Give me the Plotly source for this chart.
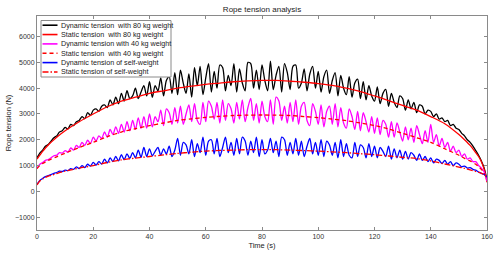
import plotly.graph_objects as go

# ---------------- data ----------------
t_dyn = list(range(0, 161))

dyn_80 = [
    1300, 1480, 1600, 1750, 1820, 1950, 2080, 2150, 2300, 2350,
    2480, 2420, 2600, 2550, 2700, 2750, 2900, 2820, 3050, 2950,
    3150, 3200, 3100, 3300, 3350, 3250, 3550, 3350, 3650, 3400,
    3800, 3500, 3900, 3600, 3700, 4000, 3600, 3850, 4100, 3700,
    4250, 3650, 4100, 3900, 4400, 3700, 4300, 4450, 3800, 4600,
    3750, 4700, 4200, 3800, 4550, 3650, 4800, 4100, 4850, 3750,
    4400, 4950, 3850, 4650, 4000, 4900, 4800, 3900, 4500, 4100,
    4950, 3850, 4750, 4200, 3900, 5000, 4950, 4000, 4700, 3950,
    4900, 4300, 3900, 5050, 3950, 4500, 4850, 3850, 4950, 4600,
    3950, 4850, 4900, 4000, 4200, 4750, 3900, 4550, 4850, 4000,
    4650, 3850, 4450, 4700, 3800, 4300, 4600, 3700, 4500, 4000,
    3750, 4450, 3650, 4200, 4350, 3600, 4250, 3550, 4100, 3700,
    3500, 4050, 3400, 3800, 3950, 3300, 3800, 3450, 3250, 3700,
    3600, 3150, 3550, 3200, 3450, 3050, 3350, 3300, 3000, 3150,
    3100, 2900, 3000, 2800, 2850, 2700, 2750, 2550, 2600, 2450,
    2400, 2250, 2150, 2000, 1900, 1750, 1580, 1400, 1180, 900, 450,
]

dyn_40 = [
    900, 1050, 1120, 1200, 1230, 1300, 1380, 1400, 1500, 1480,
    1580, 1520, 1680, 1600, 1780, 1700, 1900, 1780, 1980, 1850,
    2100, 1950, 2150, 2050, 2300, 2100, 2400, 2200, 2500, 2250,
    2600, 2300, 2700, 2350, 2750, 2400, 2850, 2450, 2900, 2450,
    3000, 2500, 2900, 2700, 3150, 2550, 3200, 3050, 2600, 3250,
    2650, 3300, 2600, 3000, 3350, 2700, 3400, 2750, 2600, 3450,
    2700, 3500, 3300, 2800, 3450, 2650, 3550, 2750, 3400, 3200,
    2650, 3450, 2800, 3550, 2700, 3250, 3600, 2750, 3400, 2650,
    3500, 2900, 2700, 3550, 2600, 3650, 3500, 2750, 3300, 2650,
    3450, 2700, 3550, 2600, 3300, 3450, 2750, 2550, 3400, 3100,
    2600, 3350, 2500, 3100, 3300, 2600, 3400, 2500, 3250, 2650,
    2450, 3200, 2900, 2400, 3100, 2350, 3050, 2700, 2300, 2900,
    2250, 2850, 2200, 2750, 2600, 2100, 2700, 2100, 2650, 2300,
    1950, 2500, 2000, 2450, 1900, 2550, 2200, 1850, 2350, 1900,
    2600, 1900, 2200, 1750, 2050, 1700, 1900, 1550, 1750, 1500,
    1600, 1350, 1450, 1250, 1300, 1150, 1150, 1000, 900, 750, 400,
]

dyn_self = [
    270, 420, 500, 570, 610, 650, 700, 730, 780, 770,
    820, 800, 880, 850, 950, 880, 1000, 920, 1050, 980,
    1120, 1020, 1150, 1060, 1250, 1100, 1300, 1150, 1350, 1180,
    1420, 1230, 1450, 1280, 1500, 1300, 1600, 1320, 1700, 1350,
    1650, 1380, 1550, 1700, 1400, 1650, 1450, 1750, 1350, 1600,
    2050, 1400, 1900, 1800, 1450, 2000, 1350, 1850, 1500, 2100,
    1400, 1950, 2000, 1450, 2050, 1350, 1700, 2100, 1500, 1900,
    1400, 2050, 1450, 2100, 1950, 1400, 1950, 1500, 2100, 1350,
    2000, 1450, 1600, 2050, 1500, 1950, 1350, 2100, 2000, 1400,
    1900, 1450, 2050, 1400, 1950, 1350, 1750, 2050, 1450, 1900,
    1400, 2000, 1350, 1950, 1800, 1400, 1900, 1300, 2000, 1350,
    1850, 1400, 1300, 1900, 1350, 1800, 1700, 1300, 1850, 1350,
    1750, 1300, 1700, 1550, 1350, 1750, 1250, 1650, 1300, 1600,
    1250, 1550, 1250, 1500, 1400, 1200, 1450, 1200, 1350, 1150,
    1300, 1100, 1250, 1200, 1080, 1200, 1050, 1150, 1000, 1100,
    1050, 950, 980, 900, 920, 850, 820, 750, 700, 650, 560,
]

t_static = [0, 1, 2, 3, 4, 5, 7, 10, 15, 20, 25, 30, 35, 40, 45, 50, 55, 60,
            65, 70, 75, 80, 85, 90, 95, 100, 105, 110, 115, 120, 125, 130,
            135, 140, 145, 150, 152, 154, 156, 157, 158, 159, 160]

static_80 = [1250, 1400, 1550, 1680, 1800, 1900, 2100, 2350, 2700, 3000, 3280,
             3500, 3650, 3800, 3900, 4000, 4080, 4150, 4200, 4250, 4280, 4300,
             4300, 4270, 4230, 4180, 4110, 4000, 3870, 3700, 3520, 3330, 3150,
             2900, 2620, 2200, 2000, 1780, 1500, 1350, 1150, 850, 350]

static_40 = [880, 1000, 1080, 1140, 1200, 1250, 1340, 1480, 1700, 1900, 2120,
             2300, 2430, 2550, 2650, 2750, 2810, 2870, 2910, 2940, 2955, 2960,
             2955, 2940, 2900, 2860, 2800, 2740, 2650, 2550, 2420, 2250, 2080,
             1900, 1650, 1400, 1280, 1180, 1050, 960, 850, 700, 450]

static_self = [250, 400, 480, 540, 590, 620, 690, 780, 900, 1000, 1120, 1220,
               1290, 1350, 1410, 1470, 1520, 1560, 1585, 1600, 1615, 1620, 1615,
               1600, 1580, 1560, 1530, 1500, 1460, 1420, 1370, 1320, 1270, 1180,
               1060, 940, 890, 830, 770, 740, 700, 650, 560]

series_names = [
    "Dynamic tension  with 80 kg weight",
    "Static tension  with 80 kg weight",
    "Dynamic tension with 40 kg weight",
    "Static tension  with 40 kg weight",
    "Dynamic tension of self-weight",
    "Static tension of self-weight",
]
series_x = [t_dyn, t_static, t_dyn, t_static, t_dyn, t_static]
series_y = [dyn_80, static_80, dyn_40, static_40, dyn_self, static_self]
series_colors = ["#000000", "#ff0000", "#ff00ff", "#ff0000", "#0000ff", "#ff0000"]
series_dash = ["solid", "solid", "solid", "4px,3px", "solid", "6px,2px,1.5px,2px"]

x_ticks = [0, 20, 40, 60, 80, 100, 120, 140, 160]
y_ticks = [-1000, 0, 1000, 2000, 3000, 4000, 5000, 6000]

# ---------------- figure ----------------
W, H = 500, 259
ML, MR, MT, MB = 37, 13, 16, 29
PW, PH = W - ML - MR, H - MT - MB

fig = go.Figure()
for name, xs, ys, col, dash in zip(series_names, series_x, series_y, series_colors, series_dash):
    fig.add_trace(go.Scatter(
        x=xs, y=ys, mode="lines", name=name, showlegend=False,
        line=dict(color=col, width=1.3, dash=dash, shape="spline", smoothing=0.8),
    ))

# manual legend (MATLAB-style compact box)
def px_x(p):
    return (p - ML) / PW

def px_y(p):
    return (H - MB - p) / PH

shapes = [dict(type="rect", xref="paper", yref="paper",
               x0=px_x(41), x1=px_x(171), y0=px_y(77), y1=px_y(20.5),
               line=dict(color="#8a8a8a", width=1), fillcolor="white", layer="above")]
annotations = []
row0, row_step = 25.2, 9.35
for i, (name, col, dash) in enumerate(zip(series_names, series_colors, series_dash)):
    yy = row0 + i * row_step
    shapes.append(dict(type="line", xref="paper", yref="paper",
                       x0=px_x(42.5), x1=px_x(57.5), y0=px_y(yy), y1=px_y(yy),
                       line=dict(color=col, width=1.6, dash=dash), layer="above"))
    annotations.append(dict(xref="paper", yref="paper", x=px_x(58.5), y=px_y(yy),
                            text=name, showarrow=False, xanchor="left", yanchor="middle",
                            font=dict(size=7.2, color="#1a1a1a")))

axis_common = dict(
    showgrid=False, zeroline=False, showline=True, linecolor="#8a8a8a", linewidth=1,
    mirror="allticks", ticks="inside", ticklen=3, tickcolor="#8a8a8a",
    tickfont=dict(size=7, color="#333333"), automargin=False,
)

fig.update_layout(
    width=W, height=H,
    margin=dict(l=ML, r=MR, t=MT, b=MB, pad=0),
    paper_bgcolor="white", plot_bgcolor="white",
    font=dict(family="Liberation Sans, Arial, sans-serif", color="#222222"),
    title=dict(text="Rope tension analysis", x=(ML + PW / 2) / W, xanchor="center",
               y=1 - 9 / H, yanchor="middle", yref="container",
               font=dict(size=8, color="#222222")),
    xaxis=dict(range=[0, 160], tickvals=x_ticks,
               title=dict(text="Time (s)", font=dict(size=7.5), standoff=3),
               **axis_common),
    yaxis=dict(range=[-1500, 6800], tickvals=y_ticks,
               title=dict(text="Rope tension (N)", font=dict(size=7.5), standoff=2),
               **axis_common),
    shapes=shapes, annotations=annotations,
)

fig.write_html("out.html", config={"displayModeBar": False},
               post_script="document.body.style.margin='0';")
